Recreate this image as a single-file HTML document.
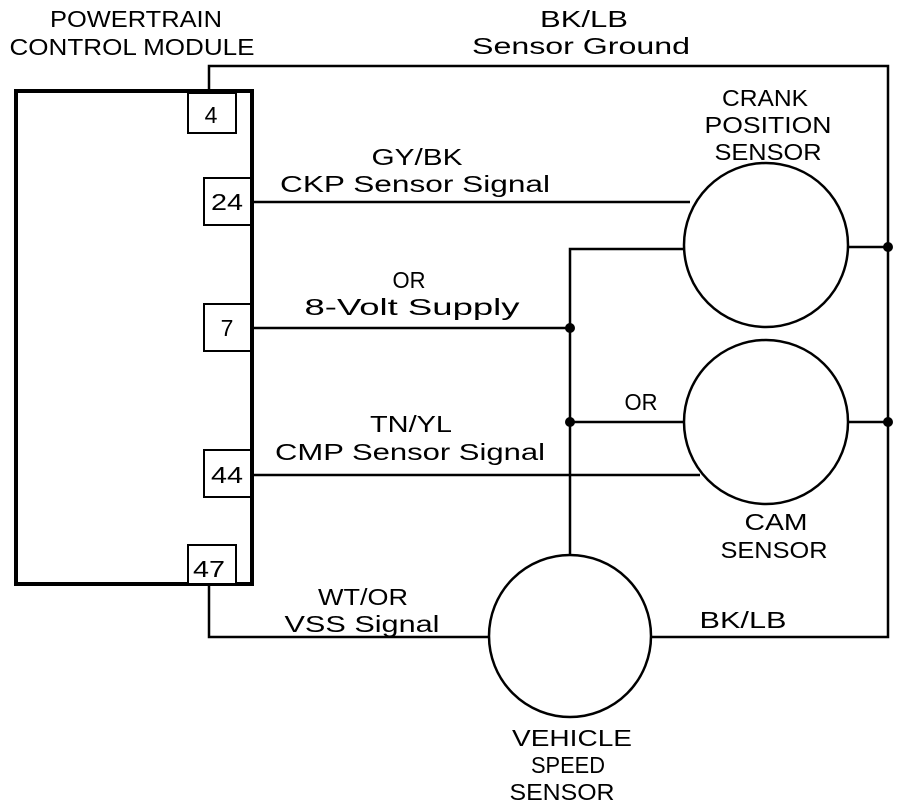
<!DOCTYPE html>
<html><head><meta charset="utf-8"><style>
html,body{margin:0;padding:0;background:#fff;}
svg{display:block;}
text{font-family:"Liberation Sans",sans-serif;font-size:23px;fill:#000;text-anchor:middle;}
</style></head><body>
<svg width="912" height="810" viewBox="0 0 912 810" xmlns="http://www.w3.org/2000/svg">
<g fill="none" stroke="#000" stroke-width="2.5">
<rect x="16" y="91" width="236" height="493" stroke-width="4"/>
<rect x="188" y="93" width="48" height="40" stroke-width="2" fill="#fff"/>
<rect x="204" y="178" width="47" height="47" stroke-width="2" fill="#fff"/>
<rect x="204" y="304" width="47" height="47" stroke-width="2" fill="#fff"/>
<rect x="204" y="450" width="47" height="47" stroke-width="2" fill="#fff"/>
<rect x="188" y="545" width="48" height="39" stroke-width="2" fill="#fff"/>
<polyline points="209,93 209,66 888,66 888,637 652,637"/>
<polyline points="209,584 209,637 489,637"/>
<line x1="252" y1="202" x2="690" y2="202"/>
<line x1="252" y1="328" x2="570" y2="328"/>
<line x1="252" y1="475" x2="700" y2="475"/>
<polyline points="570,555 570,249 685,249"/>
<line x1="570" y1="422" x2="685" y2="422"/>
<line x1="847" y1="247" x2="888" y2="247"/>
<line x1="847" y1="422" x2="888" y2="422"/>
<circle cx="766" cy="245" r="82"/>
<circle cx="766" cy="422" r="82"/>
<circle cx="570" cy="636" r="81"/>
</g>
<g fill="#000">
<circle cx="570" cy="328" r="5"/>
<circle cx="570" cy="422" r="5"/>
<circle cx="888" cy="247" r="5"/>
<circle cx="888" cy="422" r="5"/>
</g>
<text x="211" y="123">4</text>
<text x="227" y="210" textLength="32" lengthAdjust="spacingAndGlyphs">24</text>
<text x="227" y="336">7</text>
<text x="227" y="483" textLength="32" lengthAdjust="spacingAndGlyphs">44</text>
<text x="209" y="577" textLength="32" lengthAdjust="spacingAndGlyphs">47</text>
<text x="136" y="27" textLength="172" lengthAdjust="spacingAndGlyphs">POWERTRAIN</text>
<text x="132" y="55" textLength="245" lengthAdjust="spacingAndGlyphs">CONTROL MODULE</text>
<text x="584" y="27" textLength="88" lengthAdjust="spacingAndGlyphs">BK/LB</text>
<text x="581" y="54" textLength="218" lengthAdjust="spacingAndGlyphs">Sensor Ground</text>
<text x="765" y="106" textLength="86" lengthAdjust="spacingAndGlyphs">CRANK</text>
<text x="768" y="133" textLength="127" lengthAdjust="spacingAndGlyphs">POSITION</text>
<text x="768" y="160" textLength="107" lengthAdjust="spacingAndGlyphs">SENSOR</text>
<text x="417" y="165" textLength="91" lengthAdjust="spacingAndGlyphs">GY/BK</text>
<text x="415" y="192" textLength="270" lengthAdjust="spacingAndGlyphs">CKP Sensor Signal</text>
<text x="409" y="288" textLength="33" lengthAdjust="spacingAndGlyphs">OR</text>
<text x="412" y="315" textLength="215" lengthAdjust="spacingAndGlyphs">8-Volt Supply</text>
<text x="641" y="410" textLength="33" lengthAdjust="spacingAndGlyphs">OR</text>
<text x="411" y="432" textLength="82" lengthAdjust="spacingAndGlyphs">TN/YL</text>
<text x="410" y="460" textLength="270" lengthAdjust="spacingAndGlyphs">CMP Sensor Signal</text>
<text x="776" y="530" textLength="63" lengthAdjust="spacingAndGlyphs">CAM</text>
<text x="774" y="558" textLength="107" lengthAdjust="spacingAndGlyphs">SENSOR</text>
<text x="363" y="605" textLength="90" lengthAdjust="spacingAndGlyphs">WT/OR</text>
<text x="362" y="632" textLength="155" lengthAdjust="spacingAndGlyphs">VSS Signal</text>
<text x="743" y="628" textLength="87" lengthAdjust="spacingAndGlyphs">BK/LB</text>
<text x="572" y="746" textLength="120" lengthAdjust="spacingAndGlyphs">VEHICLE</text>
<text x="568" y="773" textLength="74" lengthAdjust="spacingAndGlyphs">SPEED</text>
<text x="562" y="800" textLength="105" lengthAdjust="spacingAndGlyphs">SENSOR</text>
</svg>
</body></html>
